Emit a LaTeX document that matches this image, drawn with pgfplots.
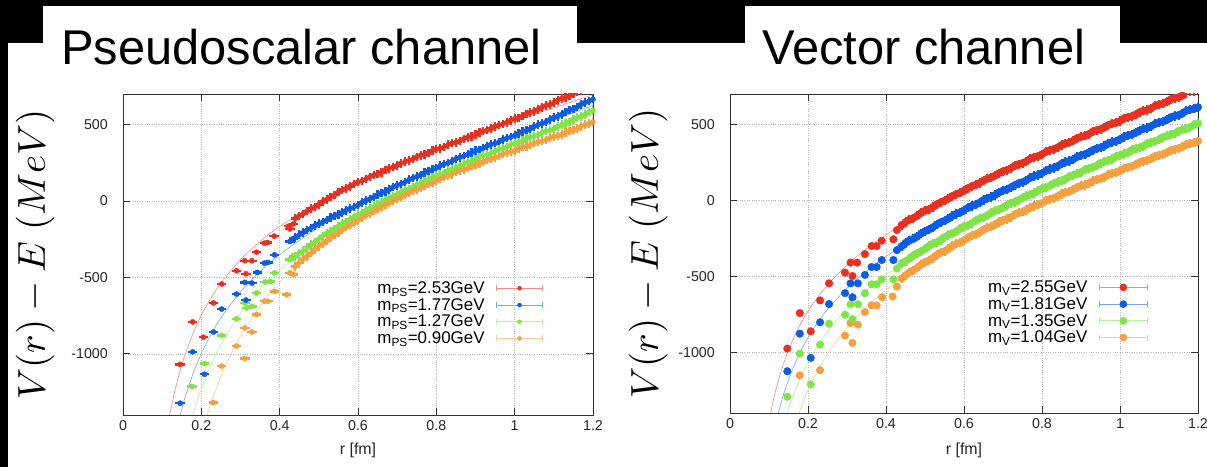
\documentclass[border=0pt]{standalone}
\usepackage[no-math]{fontspec}
\setmainfont{Liberation Sans}
\usepackage{pgfplots}
\pgfplotsset{compat=1.18}
\usepackage{pgfplotstable}

\definecolor{cR}{RGB}{232,48,32}
\definecolor{cB}{RGB}{12,92,228}
\definecolor{cG}{RGB}{128,228,72}
\definecolor{cO}{RGB}{244,160,64}

% PS channel, dense region
\pgfplotstableread{
r red blue green orange
0.44 -115 -240 -363 -428
0.45 -97 -221 -342 -405
0.46 -84 -206 -326 -380
0.47 -66 -190 -303 -362
0.48 -50 -178 -285 -341
0.49 -38 -161 -268 -317
0.50 -22 -148 -249 -296
0.51 -4 -138 -229 -279
0.52 10 -125 -213 -260
0.53 27 -109 -200 -238
0.54 40 -97 -183 -221
0.55 58 -88 -164 -207
0.56 72 -76 -149 -189
0.57 82 -61 -137 -170
0.58 95 -49 -121 -153
0.59 111 -40 -104 -141
0.60 123 -27 -90 -126
0.61 131 -10 -78 -107
0.62 143 3 -63 -92
0.63 158 13 -47 -81
0.64 169 25 -34 -66
0.65 177 41 -23 -49
0.66 188 53 -9 -35
0.67 203 62 6 -25
0.68 214 75 19 -12
0.69 221 91 29 3
0.70 232 103 42 16
0.71 247 112 58 26
0.72 257 124 70 39
0.73 264 139 79 54
0.74 274 150 91 66
0.75 289 159 106 74
0.76 299 171 118 86
0.77 305 186 127 101
0.78 315 197 139 112
0.79 329 205 154 120
0.80 339 216 165 132
0.81 344 231 173 147
0.82 354 242 184 157
0.83 368 249 199 164
0.84 378 260 210 175
0.85 383 275 218 190
0.86 393 286 229 200
0.87 407 293 244 206
0.88 416 304 254 216
0.89 423 318 261 230
0.90 434 329 272 240
0.91 448 335 287 246
0.92 458 346 297 255
0.93 464 361 303 269
0.94 474 371 313 278
0.95 488 377 328 284
0.96 498 387 338 293
0.97 504 402 344 307
0.98 514 412 354 316
0.99 528 418 368 321
1.00 538 428 378 330
1.01 544 443 384 343
1.02 555 454 394 352
1.03 570 461 408 357
1.04 580 472 418 365
1.05 587 488 423 378
1.06 598 499 433 387
1.07 613 507 447 392
1.08 624 518 457 400
1.09 631 534 462 413
1.10 643 546 472 421
1.11 659 554 488 426
1.12 670 566 499 434
1.13 677 582 506 448
1.14 688 594 518 458
1.15 702 602 534 464
1.16 712 615 545 474
1.17 721 632 553 489
1.18 735 645 565 499
1.19 748 653 581 506
1.20 758 666 592 518
}\psband

% Vector channel, dense region
\pgfplotstableread{
r red blue green orange
0.44 -163 -302 -414 -515
0.45 -143 -281 -401 -493
0.46 -128 -265 -384 -475
0.47 -117 -254 -364 -462
0.48 -102 -238 -348 -444
0.49 -83 -218 -336 -423
0.50 -69 -203 -320 -407
0.51 -59 -192 -301 -396
0.52 -44 -178 -286 -380
0.53 -26 -159 -276 -360
0.54 -13 -145 -261 -345
0.55 -3 -135 -242 -335
0.56 11 -121 -228 -320
0.57 28 -103 -218 -301
0.58 41 -90 -204 -287
0.59 50 -80 -186 -278
0.60 63 -67 -173 -264
0.61 80 -50 -164 -246
0.62 93 -37 -150 -233
0.63 102 -28 -133 -224
0.64 114 -15 -120 -211
0.65 130 2 -111 -193
0.66 142 14 -98 -181
0.67 151 22 -82 -173
0.68 163 35 -69 -160
0.69 179 52 -60 -143
0.70 191 64 -48 -131
0.71 199 72 -32 -123
0.72 211 84 -19 -111
0.73 227 100 -11 -94
0.74 238 112 1 -83
0.75 245 120 17 -76
0.76 257 132 29 -64
0.77 273 148 37 -48
0.78 284 160 48 -37
0.79 291 167 64 -30
0.80 303 179 76 -18
0.81 319 195 84 -2
0.82 330 206 95 8
0.83 337 213 111 14
0.84 348 225 121 26
0.85 364 241 129 42
0.86 374 252 140 52
0.87 381 259 156 58
0.88 392 270 166 70
0.89 408 286 174 85
0.90 418 296 185 95
0.91 425 303 201 101
0.92 436 315 211 112
0.93 452 330 218 127
0.94 462 341 229 137
0.95 468 347 245 143
0.96 479 358 254 153
0.97 495 374 262 168
0.98 505 384 272 178
0.99 511 390 288 183
1.00 522 402 297 194
1.01 538 417 305 209
1.02 547 427 315 218
1.03 553 433 331 224
1.04 564 445 340 235
1.05 580 460 347 249
1.06 589 470 357 258
1.07 595 476 373 263
1.08 606 488 382 274
1.09 622 503 389 289
1.10 631 513 399 298
1.11 637 519 415 302
1.12 648 530 424 313
1.13 664 546 431 328
1.14 673 555 440 337
1.15 678 561 456 341
1.16 689 572 465 352
1.17 705 589 472 366
1.18 714 597 482 375
1.19 719 603 498 379
1.20 731 613 506 390
}\vband

\pgfplotsset{
  panel/.style={
    scale only axis,
    xmin=0, xmax=1.2, ymin=-1400, ymax=700,
    xtick={0,0.2,0.4,0.6,0.8,1,1.2},
    xticklabels={0,0.2,0.4,0.6,0.8,1,1.2},
    ytick={-1000,-500,0,500},
    yticklabels={-1000,-500,0,500},
    tick align=inside, tick pos=both,
    xticklabel pos=bottom, yticklabel pos=left,
    major tick length=7bp,
    grid=major,
    major grid style={dotted, black!28, line width=0.6bp},
    axis line style={black!80, line width=0.8bp},
    every tick/.style={black!80, line width=0.8bp},
    ticklabel style={font=\fontsize{14.3}{16}\selectfont, text=black!85},
    yticklabel style={inner sep=0pt, xshift=-15bp},
    xticklabel style={inner sep=0pt, yshift=-5bp},
    xlabel={r [fm]},
    xlabel style={font=\fontsize{16}{18}\selectfont, anchor=center, text=black!85},
    ylabel={\scalebox{3.9}{$V(r)-E\ (MeV)$}},
    ylabel style={anchor=center},
    legend cell align=right, legend plot pos=right,
    legend style={draw=none, fill=none, font=\fontsize{17}{17}\selectfont,
      anchor=north east, inner sep=0pt, row sep=2.2bp,
      nodes={inner sep=0.6bp},
      /tikz/every odd column/.append style={column sep=11bp}},
  },
  errlegPS/.style={legend image code/.code={
      \draw[#1!55!white,line width=0.8bp] (0bp,0bp) -- (46bp,0bp);
      \draw[#1!55!white,line width=0.8bp] (0bp,-3bp) -- (0bp,3bp);
      \draw[#1!55!white,line width=0.8bp] (46bp,-3bp) -- (46bp,3bp);
      \fill[#1] (23bp,0bp) circle (2bp);}},
  errlegV/.style={legend image code/.code={
      \draw[#1!55!white,line width=0.8bp] (0bp,0bp) -- (48bp,0bp);
      \draw[#1!55!white,line width=0.8bp] (0bp,-3bp) -- (0bp,3bp);
      \draw[#1!55!white,line width=0.8bp] (48bp,-3bp) -- (48bp,3bp);
      \fill[#1] (24bp,0bp) circle (3.6bp);}},
  PSdata/.style={only marks, mark=*, mark size=2.5bp,
      error bars/y dir=both, error bars/y fixed=28,
      error bars/x dir=both, error bars/x fixed=0.011,
      error bars/error mark=none,
      error bars/error bar style={line width=2.3bp}},
  PSsmall/.style={only marks, mark=*, mark size=2.6bp,
      error bars/y dir=both, error bars/y fixed=14,
      error bars/x dir=both, error bars/x fixed=0.012,
      error bars/error mark=none,
      error bars/error bar style={line width=2.4bp}},
  Vdata/.style={only marks, mark=*, mark size=3.8bp,
      error bars/y dir=both, error bars/y fixed=30,
      error bars/error mark=none,
      error bars/error bar style={line width=2bp}},
  Vsmall/.style={only marks, mark=*, mark size=3.8bp},
  fitline/.style={line width=0.6bp, smooth, no markers, forget plot},
}

\begin{document}
\begin{tikzpicture}
\useasboundingbox (0bp,0bp) rectangle (1207bp,467bp);
\fill[black] (0bp,0bp) rectangle (1207bp,467bp);
\fill[white] (8bp,0bp) rectangle (1207bp,424bp);
\fill[white] (43bp,424bp) rectangle (577bp,461bp);
\fill[white] (745bp,424bp) rectangle (1120bp,461bp);
\node[anchor=base west, inner sep=0pt, font=\fontsize{49}{55}\selectfont] at (61bp,402bp) {Pseudoscalar channel};
\node[anchor=base west, inner sep=0pt, font=\fontsize{49}{55}\selectfont] at (762bp,402bp) {Vector channel};

% ---------------- Pseudoscalar ----------------
\begin{axis}[panel, at={(123bp,52bp)}, anchor=south west, width=470bp, height=321bp,
  ylabel style={at={(axis description cs:-0.187,0.5)}},
  xlabel style={at={(axis description cs:0.5,-0.109)}},
  legend style={at={(axis description cs:0.894,0.418)}}]
\addplot[fitline, cR!55!white] coordinates {(0.10,-1694) (0.11,-1528) (0.12,-1388) (0.13,-1268) (0.14,-1165) (0.15,-1075) (0.16,-995) (0.18,-859) (0.20,-747) (0.22,-654) (0.25,-537) (0.30,-384) (0.35,-265) (0.40,-167) (0.50,-8) (0.60,121) (0.80,337) (1.00,523) (1.20,695)};
\addplot[fitline, cB!55!white] coordinates {(0.12,-1708) (0.13,-1576) (0.14,-1462) (0.15,-1361) (0.16,-1272) (0.18,-1122) (0.20,-998) (0.22,-894) (0.25,-764) (0.30,-594) (0.35,-461) (0.40,-351) (0.50,-172) (0.60,-26) (0.80,218) (1.00,430) (1.20,626)};
\addplot[fitline, cG!55!white] coordinates {(0.15,-1684) (0.16,-1572) (0.17,-1472) (0.18,-1382) (0.20,-1228) (0.22,-1099) (0.25,-939) (0.30,-734) (0.35,-577) (0.40,-450) (0.50,-250) (0.60,-91) (0.80,164) (1.00,376) (1.20,568)};
\addplot[fitline, cO!55!white] coordinates {(0.19,-1633) (0.20,-1533) (0.21,-1443) (0.22,-1360) (0.23,-1284) (0.25,-1149) (0.275,-1005) (0.30,-883) (0.35,-686) (0.40,-531) (0.50,-298) (0.60,-124) (0.80,133) (1.00,332) (1.20,500)};
% short-distance points
\addplot[cO, PSsmall, forget plot] coordinates {(0.231,-1319) (0.252,-1080) (0.290,-949) (0.311,-830) (0.311,-1030) (0.329,-857) (0.341,-743) (0.361,-656) (0.370,-656) (0.387,-591) (0.418,-613) (0.426,-471) (0.435,-482)};
\addplot[cG, PSsmall, forget plot] coordinates {(0.176,-1214) (0.208,-1064) (0.252,-879) (0.290,-771) (0.311,-667) (0.316,-700) (0.329,-689) (0.341,-602) (0.363,-530) (0.375,-526) (0.387,-471) (0.426,-384) (0.435,-358)};
\addplot[cB, PSsmall, forget plot] coordinates {(0.146,-1323) (0.178,-987) (0.208,-1133) (0.231,-857) (0.252,-707) (0.290,-609) (0.311,-532) (0.314,-648) (0.329,-537) (0.343,-467) (0.361,-406) (0.370,-402) (0.387,-352) (0.426,-265) (0.435,-245)};
\addplot[cR, PSsmall, forget plot] coordinates {(0.146,-1069) (0.178,-791) (0.205,-891) (0.231,-667) (0.252,-543) (0.290,-456) (0.311,-391) (0.314,-476) (0.329,-391) (0.341,-335) (0.361,-276) (0.369,-272) (0.386,-230) (0.422,-165) (0.426,-183) (0.435,-150)};
% dense region
\addplot[cR, errlegPS=cR, PSdata] table[x=r, y=red] {\psband};
\addlegendentry{m\textsubscript{PS}=2.53GeV}
\addplot[cB, errlegPS=cB, PSdata] table[x=r, y=blue] {\psband};
\addlegendentry{m\textsubscript{PS}=1.77GeV}
\addplot[cG, errlegPS=cG, PSdata] table[x=r, y=green] {\psband};
\addlegendentry{m\textsubscript{PS}=1.27GeV}
\addplot[cO, errlegPS=cO, PSdata] table[x=r, y=orange] {\psband};
\addlegendentry{m\textsubscript{PS}=0.90GeV}
\end{axis}

% ---------------- Vector ----------------
\begin{axis}[panel, at={(730bp,54bp)}, anchor=south west, width=468bp, height=319bp,
  ylabel style={at={(axis description cs:-0.175,0.5)}},
  xlabel style={at={(axis description cs:0.5,-0.116)}},
  legend style={at={(axis description cs:0.893,0.417)}}]
\addplot[fitline, cR!55!white] coordinates {(0.09,-1601) (0.10,-1452) (0.11,-1328) (0.12,-1224) (0.13,-1134) (0.14,-1055) (0.16,-924) (0.18,-818) (0.20,-729) (0.22,-654) (0.25,-557) (0.30,-426) (0.35,-319) (0.40,-227) (0.50,-71) (0.60,65) (0.80,305) (1.00,524) (1.20,733)};
\addplot[fitline, cB!55!white] coordinates {(0.11,-1555) (0.12,-1441) (0.13,-1343) (0.14,-1257) (0.16,-1115) (0.18,-1000) (0.20,-904) (0.22,-822) (0.25,-718) (0.30,-579) (0.35,-466) (0.40,-369) (0.50,-205) (0.60,-65) (0.80,181) (1.00,404) (1.20,615)};
\addplot[fitline, cG!55!white] coordinates {(0.13,-1556) (0.14,-1460) (0.15,-1375) (0.16,-1300) (0.18,-1172) (0.20,-1066) (0.22,-976) (0.25,-863) (0.30,-712) (0.35,-591) (0.40,-489) (0.50,-318) (0.60,-175) (0.80,74) (1.00,295) (1.20,504)};
\addplot[fitline, cO!55!white] coordinates {(0.16,-1533) (0.17,-1452) (0.18,-1379) (0.19,-1312) (0.20,-1251) (0.22,-1145) (0.25,-1011) (0.30,-838) (0.35,-702) (0.40,-590) (0.50,-409) (0.60,-262) (0.80,-16) (1.00,196) (1.20,392)};
\addplot[cO, Vsmall, forget plot] coordinates {(0.179,-1153) (0.231,-1118) (0.295,-891) (0.309,-808) (0.314,-939) (0.328,-819) (0.346,-736) (0.363,-691) (0.376,-691) (0.390,-638) (0.417,-633) (0.428,-568)};
\addplot[cG, Vsmall, forget plot] coordinates {(0.147,-1293) (0.179,-1009) (0.207,-1212) (0.231,-950) (0.254,-812) (0.295,-753) (0.309,-684) (0.314,-782) (0.328,-684) (0.346,-611) (0.363,-553) (0.376,-553) (0.389,-520) (0.419,-520) (0.428,-448)};
\addplot[cB, Vsmall, forget plot] coordinates {(0.147,-1125) (0.179,-878) (0.207,-1037) (0.231,-803) (0.254,-683) (0.295,-611) (0.309,-547) (0.314,-638) (0.328,-547) (0.346,-491) (0.363,-439) (0.376,-439) (0.389,-393) (0.419,-393) (0.428,-328)};
\addplot[cR, Vsmall, forget plot] coordinates {(0.147,-976) (0.179,-742) (0.207,-862) (0.231,-659) (0.254,-546) (0.295,-476) (0.309,-410) (0.314,-498) (0.326,-410) (0.346,-354) (0.363,-301) (0.376,-301) (0.389,-266) (0.419,-257) (0.428,-196)};
\addplot[cR, errlegV=cR, Vdata] table[x=r, y=red] {\vband};
\addlegendentry{m\textsubscript{V}=2.55GeV}
\addplot[cB, errlegV=cB, Vdata] table[x=r, y=blue] {\vband};
\addlegendentry{m\textsubscript{V}=1.81GeV}
\addplot[cG, errlegV=cG, Vdata] table[x=r, y=green] {\vband};
\addlegendentry{m\textsubscript{V}=1.35GeV}
\addplot[cO, errlegV=cO, Vdata] table[x=r, y=orange] {\vband};
\addlegendentry{m\textsubscript{V}=1.04GeV}
\end{axis}
\end{tikzpicture}
\end{document}
